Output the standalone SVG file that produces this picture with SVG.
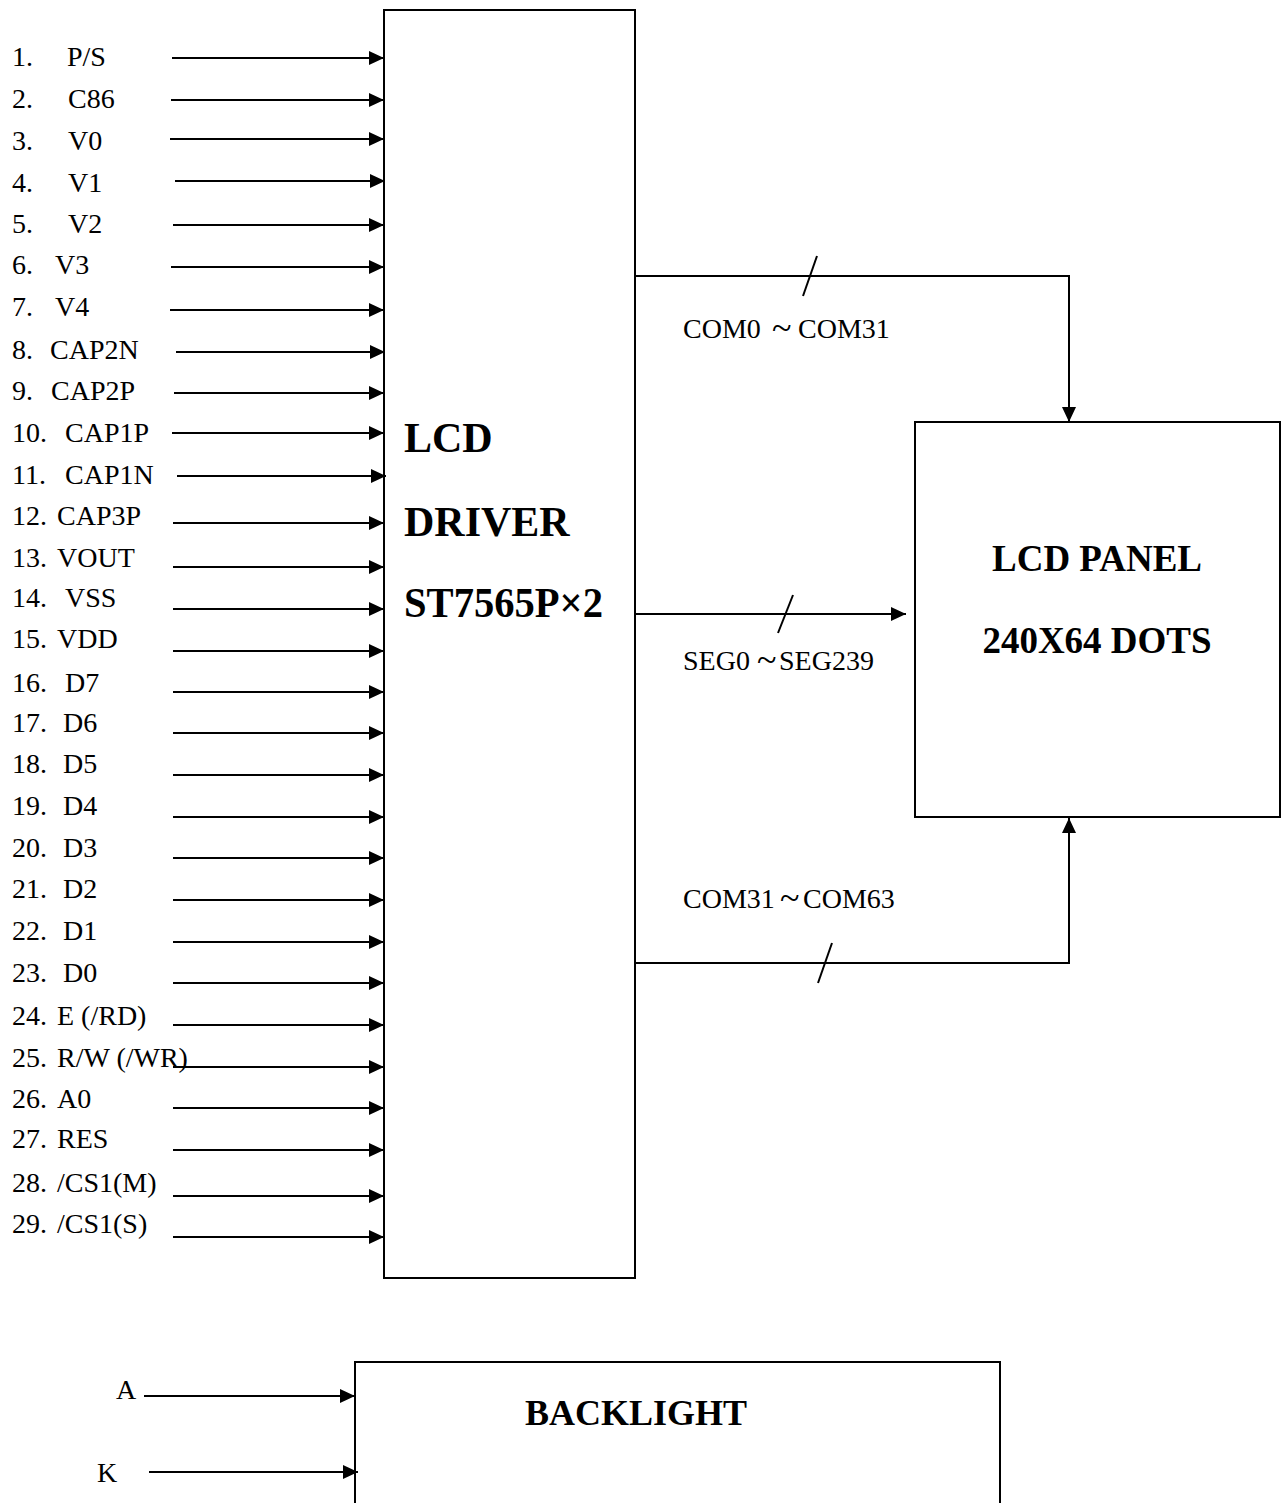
<svg xmlns="http://www.w3.org/2000/svg" width="1288" height="1503" viewBox="0 0 1288 1503">
<style>
.lbl{font-family:"Liberation Serif","Times New Roman",serif;font-size:28px;fill:#000}
.big{font-family:"Liberation Serif","Times New Roman",serif;font-size:42px;font-weight:bold;fill:#000}
.pan{font-family:"Liberation Serif","Times New Roman",serif;font-size:37px;font-weight:bold;fill:#000}
.tl{font-size:36px}
.box{fill:#fff;stroke:#000;stroke-width:2}
.wire{fill:none;stroke:#000;stroke-width:2}
.arr{fill:none;stroke:#000;stroke-width:2;marker-end:url(#ah)}
</style>
<defs>
<marker id="ah" markerUnits="userSpaceOnUse" markerWidth="16" markerHeight="15" refX="15" refY="7" orient="auto">
<path d="M0,0 L15,7 L0,14 z" fill="#000"/>
</marker>
</defs>
<rect width="1288" height="1503" fill="#fff"/>

<g id="driver">
<rect class="box" x="384" y="10" width="251" height="1268"/>
<text class="big" x="404" y="452">LCD</text>
<text class="big" x="404" y="536">DRIVER</text>
<text class="big" x="404" y="617" textLength="199" lengthAdjust="spacingAndGlyphs">ST7565P×2</text>
</g>

<g id="panel">
<rect class="box" x="915" y="422" width="365" height="395"/>
<text class="pan" x="1097" y="571" text-anchor="middle">LCD PANEL</text>
<text class="pan" x="1097" y="653" text-anchor="middle">240X64 DOTS</text>
</g>

<g id="backlight">
<rect class="box" x="355" y="1362" width="645" height="160"/>
<text class="pan" x="525" y="1425" style="font-size:36px">BACKLIGHT</text>
</g>

<g id="pin-labels">
<text class="lbl" y="66"><tspan x="12">1.</tspan><tspan x="67">P/S</tspan></text>
<text class="lbl" y="108"><tspan x="12">2.</tspan><tspan x="68">C86</tspan></text>
<text class="lbl" y="150"><tspan x="12">3.</tspan><tspan x="68">V0</tspan></text>
<text class="lbl" y="192"><tspan x="12">4.</tspan><tspan x="68">V1</tspan></text>
<text class="lbl" y="233"><tspan x="12">5.</tspan><tspan x="68">V2</tspan></text>
<text class="lbl" y="274"><tspan x="12">6.</tspan><tspan x="55">V3</tspan></text>
<text class="lbl" y="316"><tspan x="12">7.</tspan><tspan x="55">V4</tspan></text>
<text class="lbl" y="359"><tspan x="12">8.</tspan><tspan x="50">CAP2N</tspan></text>
<text class="lbl" y="400"><tspan x="12">9.</tspan><tspan x="51">CAP2P</tspan></text>
<text class="lbl" y="442"><tspan x="12">10.</tspan><tspan x="65">CAP1P</tspan></text>
<text class="lbl" y="484"><tspan x="12">11.</tspan><tspan x="65">CAP1N</tspan></text>
<text class="lbl" y="525"><tspan x="12">12.</tspan><tspan x="57">CAP3P</tspan></text>
<text class="lbl" y="567"><tspan x="12">13.</tspan><tspan x="57">VOUT</tspan></text>
<text class="lbl" y="607"><tspan x="12">14.</tspan><tspan x="65">VSS</tspan></text>
<text class="lbl" y="648"><tspan x="12">15.</tspan><tspan x="57">VDD</tspan></text>
<text class="lbl" y="692"><tspan x="12">16.</tspan><tspan x="65">D7</tspan></text>
<text class="lbl" y="732"><tspan x="12">17.</tspan><tspan x="63">D6</tspan></text>
<text class="lbl" y="773"><tspan x="12">18.</tspan><tspan x="63">D5</tspan></text>
<text class="lbl" y="815"><tspan x="12">19.</tspan><tspan x="63">D4</tspan></text>
<text class="lbl" y="857"><tspan x="12">20.</tspan><tspan x="63">D3</tspan></text>
<text class="lbl" y="898"><tspan x="12">21.</tspan><tspan x="63">D2</tspan></text>
<text class="lbl" y="940"><tspan x="12">22.</tspan><tspan x="63">D1</tspan></text>
<text class="lbl" y="982"><tspan x="12">23.</tspan><tspan x="63">D0</tspan></text>
<text class="lbl" y="1025"><tspan x="12">24.</tspan><tspan x="57">E (/RD)</tspan></text>
<text class="lbl" y="1067"><tspan x="12">25.</tspan><tspan x="57">R/W (/WR)</tspan></text>
<text class="lbl" y="1108"><tspan x="12">26.</tspan><tspan x="57">A0</tspan></text>
<text class="lbl" y="1148"><tspan x="12">27.</tspan><tspan x="57">RES</tspan></text>
<text class="lbl" y="1192"><tspan x="12">28.</tspan><tspan x="57">/CS1(M)</tspan></text>
<text class="lbl" y="1233"><tspan x="12">29.</tspan><tspan x="57">/CS1(S)</tspan></text>
<text class="lbl" x="116" y="1399">A</text>
<text class="lbl" x="97" y="1482">K</text>
</g>

<g id="connectors">
<line class="arr" x1="172" y1="58" x2="384" y2="58"/>
<line class="arr" x1="171" y1="100" x2="384" y2="100"/>
<line class="arr" x1="170" y1="139" x2="384" y2="139"/>
<line class="arr" x1="175" y1="181" x2="385" y2="181"/>
<line class="arr" x1="173" y1="225" x2="384" y2="225"/>
<line class="arr" x1="171" y1="267" x2="384" y2="267"/>
<line class="arr" x1="170" y1="310" x2="384" y2="310"/>
<line class="arr" x1="176" y1="352" x2="385" y2="352"/>
<line class="arr" x1="174" y1="393" x2="384" y2="393"/>
<line class="arr" x1="172" y1="433" x2="384" y2="433"/>
<line class="arr" x1="177" y1="476" x2="386" y2="476"/>
<line class="arr" x1="173" y1="523" x2="384" y2="523"/>
<line class="arr" x1="173" y1="567" x2="384" y2="567"/>
<line class="arr" x1="173" y1="609" x2="384" y2="609"/>
<line class="arr" x1="173" y1="651" x2="384" y2="651"/>
<line class="arr" x1="173" y1="692" x2="384" y2="692"/>
<line class="arr" x1="173" y1="733" x2="384" y2="733"/>
<line class="arr" x1="173" y1="775" x2="384" y2="775"/>
<line class="arr" x1="173" y1="817" x2="384" y2="817"/>
<line class="arr" x1="173" y1="858" x2="384" y2="858"/>
<line class="arr" x1="173" y1="900" x2="384" y2="900"/>
<line class="arr" x1="173" y1="942" x2="384" y2="942"/>
<line class="arr" x1="173" y1="983" x2="384" y2="983"/>
<line class="arr" x1="173" y1="1025" x2="384" y2="1025"/>
<line class="arr" x1="173" y1="1067" x2="384" y2="1067"/>
<line class="arr" x1="173" y1="1108" x2="384" y2="1108"/>
<line class="arr" x1="173" y1="1150" x2="384" y2="1150"/>
<line class="arr" x1="173" y1="1196" x2="384" y2="1196"/>
<line class="arr" x1="173" y1="1237" x2="384" y2="1237"/>

<polyline class="arr" points="635,276 1069,276 1069,422"/>
<line class="wire" x1="803" y1="296" x2="817" y2="256"/>
<text class="lbl" y="338"><tspan x="683">COM0</tspan><tspan x="772" class="tl" dy="2">~</tspan><tspan x="798" dy="-2">COM31</tspan></text>

<line class="arr" x1="635" y1="614" x2="906" y2="614"/>
<line class="wire" x1="778" y1="633" x2="793" y2="595"/>
<text class="lbl" y="670"><tspan x="683">SEG0</tspan><tspan x="757" class="tl" dy="2">~</tspan><tspan x="779" dy="-2">SEG239</tspan></text>

<polyline class="arr" points="635,963 1069,963 1069,818"/>
<line class="wire" x1="818" y1="983" x2="832" y2="943"/>
<text class="lbl" y="908"><tspan x="683">COM31</tspan><tspan x="780" class="tl" dy="2">~</tspan><tspan x="803" dy="-2">COM63</tspan></text>

<line class="arr" x1="144" y1="1396" x2="355" y2="1396"/>
<line class="arr" x1="149" y1="1472" x2="358" y2="1472"/>
</g>
</svg>
